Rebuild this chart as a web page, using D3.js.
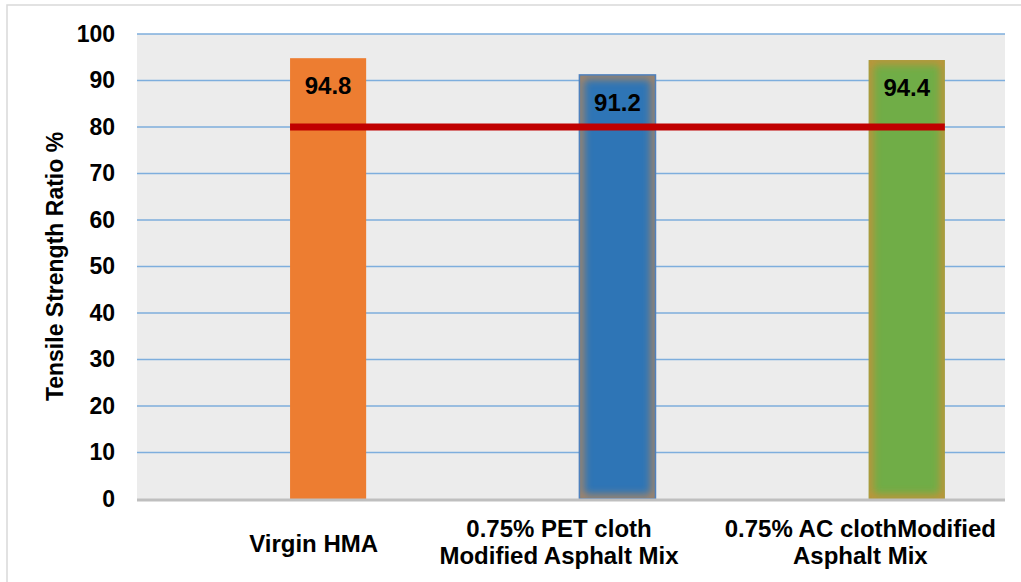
<!DOCTYPE html>
<html>
<head>
<meta charset="utf-8">
<script src="https://cdn.jsdelivr.net/npm/d3@7"></script>
<style>
  html, body { margin: 0; padding: 0; background: #ffffff; }
  svg { display: block; font-family: "Liberation Sans", Arial, sans-serif; }
</style>
</head>
<body>
<svg id="chart" width="1021" height="582"></svg>
<script>
// Tensile strength ratio of the three asphalt mixes
const categories = ["Virgin HMA", "0.75% PET cloth Modified Asphalt Mix", "0.75% AC clothModified Asphalt Mix"];
const labelLines = [["Virgin HMA"], ["0.75% PET cloth", "Modified Asphalt Mix"], ["0.75% AC clothModified", "Asphalt Mix"]];
const tsrValues = [94.8, 91.2, 94.4];
const yTicks = [0, 10, 20, 30, 40, 50, 60, 70, 80, 90, 100];
const minimumTSR = 80;

const W = 1021, H = 582;
const plot = { left: 137, right: 1005, top: 34, bottom: 499 };
const barColors = ["#ED7D31", "#2E75B6", "#70AD47"];
const barGlow = [null, "#B8875A", "#CC9038"];
const barStroke = [null, "#4F81BD", null];
const labelNudge = [32, -12, 0];

const svg = d3.select("#chart");

// outer chart frame
svg.append("rect")
  .attr("x", 7).attr("y", 5).attr("width", W + 20).attr("height", H + 20)
  .attr("fill", "#ffffff").attr("stroke", "#D9D9D9").attr("stroke-width", 1.5);

const x = d3.scaleBand().domain(categories).range([plot.left, plot.right]).padding(0);
const y = d3.scaleLinear().domain([0, 100]).range([plot.bottom, plot.top]);

const barStart = c => x(c) + x.bandwidth() * 0.529;
const barW = x.bandwidth() * 0.263;

// plot background
svg.append("rect")
  .attr("x", plot.left).attr("y", plot.top)
  .attr("width", plot.right - plot.left).attr("height", plot.bottom - plot.top)
  .attr("fill", "#ECECEC");

// horizontal gridlines
svg.append("g").selectAll("line")
  .data(yTicks.filter(t => t > 0))
  .join("line")
  .attr("x1", plot.left).attr("x2", plot.right)
  .attr("y1", d => y(d)).attr("y2", d => y(d))
  .attr("stroke", "#7EAEDD").attr("stroke-width", 1.5);

// y axis tick labels
const yAxis = d3.axisLeft(y).tickValues(yTicks).tickSize(0).tickPadding(22);
const gy = svg.append("g").attr("transform", `translate(${plot.left},0)`).call(yAxis);
gy.select(".domain").remove();
gy.selectAll("text")
  .attr("font-size", 23).attr("font-weight", "bold").attr("fill", "#000")
  .attr("font-family", "'Liberation Sans', Arial, sans-serif");

// soft edge filter used on the modified-mix bars
const defs = svg.append("defs");
defs.append("filter").attr("id", "soften")
  .attr("x", "-20%").attr("y", "-20%").attr("width", "140%").attr("height", "140%")
  .append("feGaussianBlur").attr("stdDeviation", 4);

categories.forEach((c, i) => {
  defs.append("clipPath").attr("id", "clip" + i)
    .append("rect")
    .attr("x", barStart(c)).attr("y", y(tsrValues[i]))
    .attr("width", barW).attr("height", y(0) - y(tsrValues[i]));
});

// bars
const bars = svg.append("g");
categories.forEach((c, i) => {
  const v = tsrValues[i];
  bars.append("rect")
    .attr("x", barStart(c)).attr("y", y(v))
    .attr("width", barW).attr("height", y(0) - y(v))
    .attr("fill", barColors[i]);
  if (barGlow[i]) {
    bars.append("rect")
      .attr("clip-path", `url(#clip${i})`)
      .attr("x", barStart(c)).attr("y", y(v))
      .attr("width", barW).attr("height", y(0) - y(v))
      .attr("fill", "none")
      .attr("stroke", barGlow[i]).attr("stroke-width", 8)
      .attr("filter", "url(#soften)");
  }
  if (barStroke[i]) {
    bars.append("rect")
      .attr("x", barStart(c)).attr("y", y(v))
      .attr("width", barW).attr("height", y(0) - y(v))
      .attr("fill", "none")
      .attr("stroke", barStroke[i]).attr("stroke-width", 1.5);
  }
});

// category axis line
svg.append("line")
  .attr("x1", plot.left).attr("x2", plot.right)
  .attr("y1", y(0) + 1).attr("y2", y(0) + 1)
  .attr("stroke", "#BFBFBF").attr("stroke-width", 3);

// minimum TSR requirement line
svg.append("line")
  .attr("x1", barStart(categories[0]))
  .attr("x2", barStart(categories[categories.length - 1]) + barW)
  .attr("y1", y(minimumTSR)).attr("y2", y(minimumTSR))
  .attr("stroke", "#C00000").attr("stroke-width", 7);

// value labels
svg.append("g").selectAll("text")
  .data(categories)
  .join("text")
  .attr("x", c => barStart(c) + barW / 2)
  .attr("y", (c, i) => y(tsrValues[i]) + 36)
  .attr("text-anchor", "middle")
  .attr("font-size", 24).attr("font-weight", "bold").attr("fill", "#000")
  .text((c, i) => tsrValues[i].toFixed(1));

// category labels
const catG = svg.append("g");
categories.forEach((c, i) => {
  const lines = labelLines[i];
  const cx = x(c) + x.bandwidth() / 2 + labelNudge[i];
  const t = catG.append("text")
    .attr("text-anchor", "middle")
    .attr("font-size", 24).attr("font-weight", "bold").attr("fill", "#000");
  const base = lines.length === 1 ? 552 : 537;
  lines.forEach((ln, k) => {
    t.append("tspan").attr("x", cx).attr("y", base + k * 27).text(ln);
  });
});

// y axis title
svg.append("text")
  .attr("transform", `translate(63, ${(plot.top + plot.bottom) / 2}) rotate(-90)`)
  .attr("text-anchor", "middle")
  .attr("font-size", 23).attr("font-weight", "bold").attr("fill", "#000")
  .text("Tensile Strength Ratio %");
</script>
</body>
</html>
